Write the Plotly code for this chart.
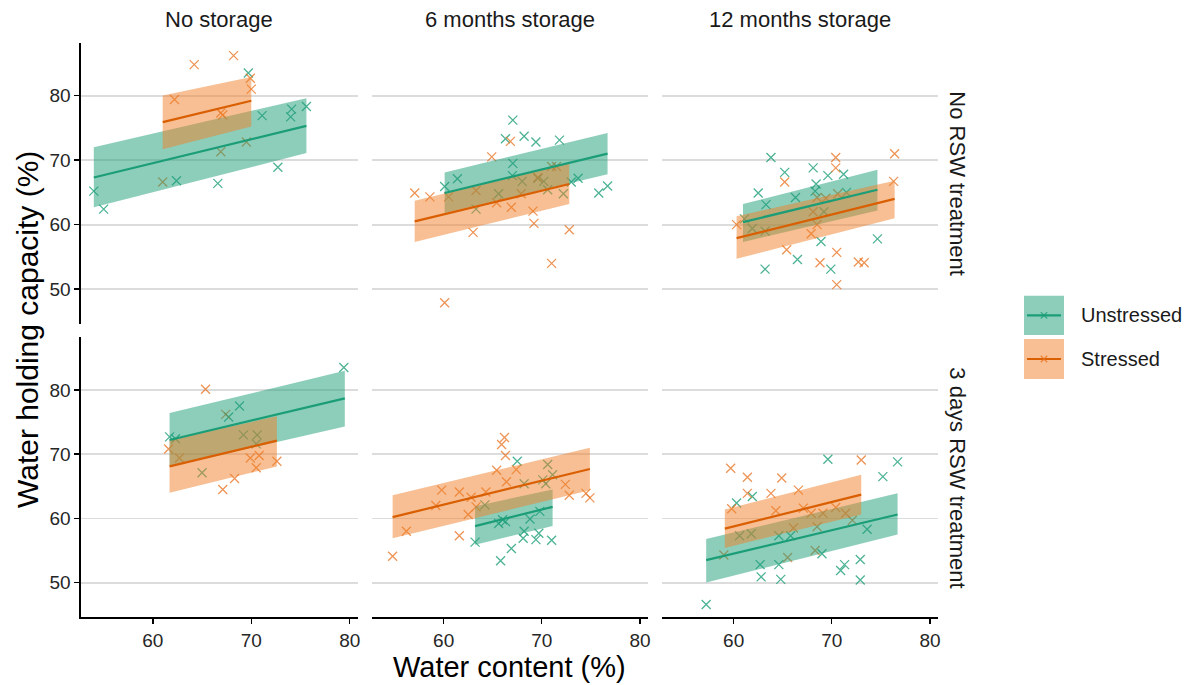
import plotly.graph_objects as go

W, H = 1187, 685

# ---------------- data ----------------
col_titles = ["No storage", "6 months storage", "12 months storage"]
row_titles = ["No RSW treatment", "3 days RSW treatment"]
groups = ["Unstressed", "Stressed"]
x_ticks = [60, 70, 80]
y_ticks = [50, 60, 70, 80]

# panel order: row1 (No RSW) col1..col3, row2 (3 days RSW) col1..col3
# Unstressed points
u_p1_x = [54.0, 55.0, 62.4, 66.6, 69.7, 71.1, 72.7, 74.1, 74.0, 75.6]
u_p1_y = [65.2, 62.4, 66.8, 66.4, 83.5, 76.9, 68.9, 77.9, 76.7, 78.3]
u_p2_x = [67.05, 66.3, 68.2, 69.4, 71.8, 67.05, 61.4, 60.1, 67.0, 68.0, 69.6, 70.2, 70.6, 72.2, 73.0, 73.7, 75.8, 76.7, 65.6, 63.3]
u_p2_y = [76.2, 73.3, 73.7, 72.8, 73.1, 69.5, 67.1, 65.9, 67.6, 66.7, 67.2, 66.7, 65.4, 64.8, 66.6, 67.2, 64.9, 66.0, 64.8, 62.4]
u_p3_x = [63.8, 65.2, 68.1, 69.6, 71.2, 62.5, 63.3, 66.3, 68.4, 68.3, 71.5, 61.1, 61.9, 63.2, 69.2, 68.9, 74.65, 66.5, 63.2, 69.9]
u_p3_y = [70.4, 68.1, 68.8, 67.6, 67.8, 64.9, 63.1, 64.2, 66.3, 65.2, 65.0, 60.9, 59.4, 59.0, 62.0, 57.4, 57.8, 54.6, 53.1, 53.1]
u_p4_x = [79.4, 68.8, 67.7, 61.7, 62.3, 69.2, 70.6, 70.5, 65.0]
u_p4_y = [83.5, 77.5, 75.8, 72.7, 72.4, 73.0, 73.0, 71.6, 67.1]
u_p5_x = [67.5, 68.2, 70.1, 70.6, 71.1, 70.4, 69.8, 68.8, 68.2, 68.1, 69.4, 69.7, 71.0, 66.9, 65.8, 63.2, 65.6, 66.3, 66.0, 64.2]
u_p5_y = [68.9, 65.4, 66.0, 68.4, 66.8, 65.4, 61.1, 59.9, 58.0, 56.9, 56.7, 57.7, 56.6, 55.3, 53.4, 56.3, 59.2, 59.5, 59.8, 62.1]
u_p6_x = [57.2, 69.6, 75.2, 76.7, 60.3, 61.9, 60.6, 61.8, 65.8, 64.6, 73.6, 69.0, 71.3, 72.9, 70.9, 72.9, 62.7, 64.6, 62.8, 64.8]
u_p6_y = [46.6, 69.2, 66.5, 68.8, 62.4, 63.4, 57.3, 57.6, 57.3, 57.3, 58.3, 54.5, 52.8, 53.6, 51.9, 50.4, 52.8, 52.8, 50.9, 50.5]

# Stressed points
s_p1_x = [61.0, 62.2, 64.2, 66.9, 67.1, 66.9, 68.2, 69.5, 69.9, 70.0]
s_p1_y = [66.6, 79.4, 84.8, 77.3, 77.0, 71.3, 86.2, 72.8, 82.7, 81.0]
s_p2_x = [57.05, 58.6, 60.5, 63.0, 60.1, 64.9, 66.8, 63.3, 65.4, 66.9, 67.9, 69.1, 69.2, 71.0, 72.8, 71.0, 71.5, 69.6]
s_p2_y = [64.9, 64.3, 64.3, 58.8, 47.9, 70.5, 72.9, 65.3, 63.4, 62.7, 64.8, 62.1, 60.2, 54.0, 59.2, 69.0, 69.0, 67.3]
s_p3_x = [60.3, 65.2, 70.4, 70.4, 76.4, 76.3, 68.5, 69.4, 70.6, 68.1, 68.5, 67.9, 65.4, 70.5, 68.8, 72.7, 73.3, 70.5]
s_p3_y = [60.0, 66.6, 70.4, 68.8, 71.0, 66.7, 64.2, 64.1, 64.8, 62.0, 60.0, 58.6, 56.1, 55.7, 54.1, 54.2, 54.1, 50.7]
s_p4_x = [65.35, 67.4, 61.6, 62.7, 67.1, 68.3, 69.9, 70.8, 70.5, 72.6]
s_p4_y = [80.1, 76.2, 70.8, 69.4, 64.5, 66.2, 69.4, 69.8, 67.9, 68.9]
s_p5_x = [54.8, 56.2, 59.2, 59.8, 61.6, 61.6, 62.5, 62.8, 63.3, 64.3, 65.4, 65.9, 66.2, 66.3, 66.4, 67.4, 72.4, 72.8, 74.5, 74.9]
s_p5_y = [54.1, 58.0, 62.0, 64.4, 64.1, 57.3, 60.6, 63.3, 61.8, 64.1, 67.5, 71.5, 72.6, 69.8, 65.7, 67.6, 65.3, 63.6, 63.9, 63.2]
s_p6_x = [59.7, 61.4, 64.9, 73.0, 61.4, 63.8, 66.6, 59.8, 64.3, 67.9, 69.1, 66.1, 68.5, 72.1, 59.0, 65.5, 68.3, 67.1, 70.4, 71.4]
s_p6_y = [67.8, 66.4, 66.3, 69.1, 63.9, 63.9, 64.4, 61.5, 61.2, 60.8, 60.8, 58.5, 58.7, 59.7, 54.3, 53.9, 55.0, 61.6, 61.7, 60.8]

# Fitted lines and bands (start / end) per panel
u_fit_x0 = [54.0, 60.1, 60.95, 61.7, 63.2, 57.2]
u_fit_x1 = [75.6, 76.7, 74.65, 79.5, 71.1, 76.7]
u_fit_y0 = [67.3, 64.9, 60.4, 72.2, 58.8, 53.5]
u_fit_y1 = [75.3, 71.0, 65.4, 78.7, 61.8, 60.6]
u_lo_y0 = [62.7, 61.8, 57.3, 68.1, 55.9, 50.0]
u_lo_y1 = [71.1, 67.8, 62.2, 74.3, 58.8, 57.5]
u_hi_y0 = [72.0, 68.1, 63.2, 76.4, 61.9, 56.8]
u_hi_y1 = [79.6, 74.2, 68.5, 83.0, 64.5, 63.9]

s_fit_x0 = [61.0, 57.05, 60.3, 61.7, 54.8, 59.1]
s_fit_x1 = [70.0, 72.8, 76.4, 72.6, 74.9, 73.0]
s_fit_y0 = [75.9, 60.5, 57.9, 68.1, 60.2, 58.4]
s_fit_y1 = [79.2, 66.3, 64.0, 72.1, 67.7, 63.7]
s_lo_y0 = [71.7, 57.3, 54.7, 64.0, 56.9, 55.4]
s_lo_y1 = [75.2, 63.2, 61.0, 68.1, 64.4, 60.6]
s_hi_y0 = [80.0, 63.7, 61.3, 72.2, 63.6, 61.4]
s_hi_y1 = [82.9, 69.5, 66.8, 75.9, 71.0, 66.8]

# ---------------- styling ----------------
FONT = "Liberation Sans, Arial, sans-serif"
line_col = {"Unstressed": "#1B9E77", "Stressed": "#D95F02"}
pt_col = {"Unstressed": "rgba(27,158,119,0.78)", "Stressed": "rgba(232,112,30,0.75)"}
band_col = {"Unstressed": "rgba(27,158,119,0.5)", "Stressed": "rgba(240,128,40,0.5)"}

col_px = [(81, 357.6), (372, 647.8), (662, 937.8)]
row_px = [(42.7, 324), (337.3, 617.3)]
x_range = [52.7, 80.8]
y_range = [44.6, 88.2]


def px_x(p):
    return p / W


def px_y(p):
    return 1 - p / H


pts = {
    "Unstressed": [(u_p1_x, u_p1_y), (u_p2_x, u_p2_y), (u_p3_x, u_p3_y),
                   (u_p4_x, u_p4_y), (u_p5_x, u_p5_y), (u_p6_x, u_p6_y)],
    "Stressed": [(s_p1_x, s_p1_y), (s_p2_x, s_p2_y), (s_p3_x, s_p3_y),
                 (s_p4_x, s_p4_y), (s_p5_x, s_p5_y), (s_p6_x, s_p6_y)],
}
fits = {
    "Unstressed": (u_fit_x0, u_fit_x1, u_fit_y0, u_fit_y1, u_lo_y0, u_lo_y1, u_hi_y0, u_hi_y1),
    "Stressed": (s_fit_x0, s_fit_x1, s_fit_y0, s_fit_y1, s_lo_y0, s_lo_y1, s_hi_y0, s_hi_y1),
}

fig = go.Figure()
layout = {}

for k in range(6):
    r, c = divmod(k, 3)
    idx = k + 1
    xa = "x" if idx == 1 else f"x{idx}"
    ya = "y" if idx == 1 else f"y{idx}"
    xkey = "xaxis" if idx == 1 else f"xaxis{idx}"
    ykey = "yaxis" if idx == 1 else f"yaxis{idx}"

    # points first (covered by bands, as in the original)
    for g in groups:
        px_, py_ = pts[g][k]
        fig.add_trace(go.Scatter(
            x=px_, y=py_, mode="markers", xaxis=xa, yaxis=ya, showlegend=False,
            marker=dict(symbol="x-thin", size=9, line=dict(width=1.3, color=pt_col[g]),
                        color=pt_col[g]),
            hoverinfo="skip"))
    for g in groups:
        x0, x1, f0, f1, l0, l1, h0, h1 = (a[k] for a in fits[g])
        fig.add_trace(go.Scatter(
            x=[x0, x1, x1, x0, x0], y=[l0, l1, h1, h0, l0], mode="lines",
            fill="toself", fillcolor=band_col[g], line=dict(width=0),
            xaxis=xa, yaxis=ya, showlegend=False, hoverinfo="skip"))
    for g in groups:
        x0, x1, f0, f1 = (a[k] for a in fits[g][:4])
        fig.add_trace(go.Scatter(
            x=[x0, x1], y=[f0, f1], mode="lines", line=dict(color=line_col[g], width=2.2),
            xaxis=xa, yaxis=ya, showlegend=False, hoverinfo="skip"))

    bottom = r == 1
    left = c == 0
    layout[xkey] = dict(
        domain=[px_x(col_px[c][0]), px_x(col_px[c][1])], anchor=ya, range=x_range,
        automargin=False,
        showgrid=False, zeroline=False, tickvals=x_ticks,
        showticklabels=bottom, showline=bottom, linecolor="black", linewidth=1.6,
        ticks="outside" if bottom else "", ticklen=5, tickwidth=1.4, tickcolor="black",
        tickfont=dict(family=FONT, size=19, color="#262626"), fixedrange=True)
    layout[ykey] = dict(
        domain=[px_y(row_px[r][1]), px_y(row_px[r][0])], anchor=xa, range=y_range,
        automargin=False,
        showgrid=True, gridcolor="#DCDCDC", gridwidth=1.8, zeroline=False, tickvals=y_ticks,
        showticklabels=left, showline=left, linecolor="black", linewidth=1.6,
        ticks="outside" if left else "", ticklen=5, tickwidth=1.4, tickcolor="black",
        tickfont=dict(family=FONT, size=19, color="#262626"), fixedrange=True)

annotations = []
for c, t in enumerate(col_titles):
    annotations.append(dict(
        text=t, x=px_x((col_px[c][0] + col_px[c][1]) / 2), y=px_y(20), xref="paper", yref="paper",
        showarrow=False, font=dict(family=FONT, size=22, color="#1A1A1A"),
        xanchor="center", yanchor="middle"))
for r, t in enumerate(row_titles):
    annotations.append(dict(
        text=t, x=px_x(958), y=px_y((row_px[r][0] + row_px[r][1]) / 2), xref="paper", yref="paper",
        showarrow=False, textangle=90, font=dict(family=FONT, size=22, color="#1A1A1A"),
        xanchor="center", yanchor="middle"))
annotations.append(dict(
    text="Water content (%)", x=px_x((col_px[0][0] + col_px[2][1]) / 2), y=px_y(667),
    xref="paper", yref="paper", showarrow=False,
    font=dict(family=FONT, size=29, color="black"), xanchor="center", yanchor="middle"))
annotations.append(dict(
    text="Water holding capacity (%)", x=px_x(27), y=px_y((row_px[0][0] + row_px[1][1]) / 2),
    xref="paper", yref="paper", showarrow=False, textangle=-90,
    font=dict(family=FONT, size=30, color="black"), xanchor="center", yanchor="middle"))

# legend (manual, ggplot-style keys)
shapes = []
leg_boxes = [(295.7, 335.0), (339.0, 379.0)]
for g, (t, b) in zip(groups, leg_boxes):
    x0p, x1p = 1024, 1064
    cy = (t + b) / 2
    cx = (x0p + x1p) / 2
    shapes.append(dict(type="rect", xref="paper", yref="paper",
                       x0=px_x(x0p), x1=px_x(x1p), y0=px_y(b), y1=px_y(t),
                       fillcolor=band_col[g], line=dict(width=0), layer="above"))
    shapes.append(dict(type="line", xref="paper", yref="paper",
                       x0=px_x(x0p + 3), x1=px_x(x1p - 3), y0=px_y(cy), y1=px_y(cy),
                       line=dict(color=line_col[g], width=2.2)))
    d = 3.2
    shapes.append(dict(type="line", xref="paper", yref="paper",
                       x0=px_x(cx - d), x1=px_x(cx + d), y0=px_y(cy - d), y1=px_y(cy + d),
                       line=dict(color=pt_col[g], width=1.3)))
    shapes.append(dict(type="line", xref="paper", yref="paper",
                       x0=px_x(cx - d), x1=px_x(cx + d), y0=px_y(cy + d), y1=px_y(cy - d),
                       line=dict(color=pt_col[g], width=1.3)))
    annotations.append(dict(
        text=g, x=px_x(1079), y=px_y(cy), xref="paper", yref="paper", showarrow=False,
        font=dict(family=FONT, size=20, color="#1A1A1A"), xanchor="left", yanchor="middle"))

fig.update_layout(
    width=W, height=H, margin=dict(l=0, r=0, t=0, b=0, autoexpand=False),
    paper_bgcolor="white", plot_bgcolor="white",
    annotations=annotations, shapes=shapes, showlegend=False,
    **layout)

fig.write_html("out.html", config={"displayModeBar": False, "staticPlot": True},
               post_script="document.body.style.margin='0';document.body.style.overflow='hidden';")
